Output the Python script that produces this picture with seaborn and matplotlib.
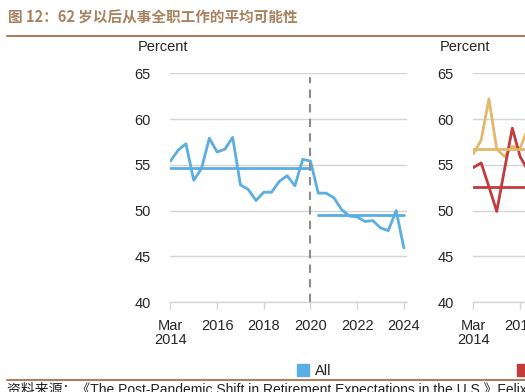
import numpy as np
import pandas as pd
import matplotlib
matplotlib.use("Agg")
import matplotlib.pyplot as plt
import seaborn as sns
from matplotlib.lines import Line2D

# data, one survey every 4 months, Mar 2014 .. Mar 2024
all_vals = [55.4, 56.6, 57.3, 53.3, 54.6, 57.9, 56.4, 56.7, 58.0, 52.8,
            52.3, 51.1, 52.0, 52.0, 53.2, 53.8, 52.7, 55.6, 55.4, 51.9,
            51.9, 51.4, 50.1, 49.4, 49.3, 48.8, 48.9, 48.1, 47.8, 50.0, 45.9]
all_pre_mean = 54.6
all_post_mean = 49.5

# right panel, only the first few points are visible
gold_vals = [56.2, 57.7, 62.2, 56.7, 55.9, 57.0, 56.8, 59.0]
red_vals = [54.7, 55.2, 52.6, 49.9, 54.5, 59.0, 55.9, 54.4]
gold_mean = 56.7
red_mean = 52.6

tick_pos = [0, 6, 12, 18, 24, 30]
tick_labels = ["Mar\n2014", "2016", "2018", "2020", "2022", "2024"]
yticks = [40, 45, 50, 55, 60, 65]

blue = "#5aaee3"
gold = "#e2b86a"
red = "#c23b3d"
brown = "#a8825f"
grid_c = "#d4d4d4"

sns.set_theme(style="white")
plt.rcParams["font.family"] = ["Liberation Sans", "Noto Sans CJK SC", "DejaVu Sans"]

fig = plt.figure(figsize=(5.25, 3.92), dpi=100)


def setup(ax, px):
    ax.set_ylim(40, 65)
    ax.set_xlim(-0.05, 30.4)
    ax.set_yticks(yticks)
    ax.yaxis.grid(True, color=grid_c, linewidth=1)
    ax.set_axisbelow(True)
    for s in ["top", "right", "left"]:
        ax.spines[s].set_visible(False)
    ax.spines["bottom"].set_color(grid_c)
    ax.spines["bottom"].set_linewidth(1)
    ax.set_xticks(tick_pos)
    ax.set_xticklabels(tick_labels, fontsize=10.5, linespacing=1.0)
    ax.tick_params(axis="x", length=5, width=1, color=grid_c, pad=7, bottom=True)
    ax.tick_params(axis="y", length=0, pad=14, labelsize=10.5)
    ax.set_xlabel("")
    ax.set_ylabel("")
    ax.text(px, 1.115, "Percent", transform=ax.transAxes, fontsize=10.5,
            ha="left", va="center")


ax1 = fig.add_axes([170 / 525, 1 - 302 / 392, 237 / 525, (302 - 73.3) / 392])
df_all = pd.DataFrame({"t": np.arange(len(all_vals)), "v": all_vals})
sns.lineplot(data=df_all, x="t", y="v", ax=ax1, color=blue, linewidth=2)
ax1.plot([0, 18], [all_pre_mean, all_pre_mean], color=blue, linewidth=2)
ax1.plot([19, 30], [all_post_mean, all_post_mean], color=blue, linewidth=2)
ax1.plot([18, 18], [40, 64.6], color="#8c8c8c", linewidth=1.5, linestyle=(0, (4, 3)))
setup(ax1, -0.135)

ax2 = fig.add_axes([473 / 525, 1 - 302 / 392, 237 / 525, (302 - 73.3) / 392])
df_r = pd.DataFrame({"t": np.arange(len(gold_vals)), "gold": gold_vals, "red": red_vals})
sns.lineplot(data=df_r, x="t", y="gold", ax=ax2, color=gold, linewidth=2)
sns.lineplot(data=df_r, x="t", y="red", ax=ax2, color=red, linewidth=2)
ax2.plot([0, 18], [gold_mean, gold_mean], color=gold, linewidth=2)
ax2.plot([0, 18], [red_mean, red_mean], color=red, linewidth=2)
setup(ax2, -0.14)

# title and rules
fig.text(8 / 525, 1 - 18 / 392, "图 12：62 岁以后从事全职工作的平均可能性", color=brown,
         fontsize=10.5, fontweight="bold", ha="left", va="center",
         family=["Noto Sans CJK SC", "DejaVu Sans"])
fig.add_artist(Line2D([7 / 525, 1], [1 - 36 / 392] * 2, color=brown, linewidth=1.5))
fig.add_artist(Line2D([7 / 525, 1], [1 - 380 / 392] * 2, color=brown, linewidth=1.5))

# legend
handles = [Line2D([], [], marker="s", linestyle="none", markersize=8, color=blue),
           Line2D([], [], marker="s", linestyle="none", markersize=8, color=red),
           Line2D([], [], marker="s", linestyle="none", markersize=8, color=gold)]
fig.legend(handles, ["All", "Men", "Women"], ncol=3, loc="center left",
           bbox_to_anchor=(283 / 525, 1 - 371 / 392), frameon=False, fontsize=10.5,
           handletextpad=0.3, columnspacing=12.6, handlelength=1.0)

fig.text(7 / 525, 1 - 389 / 392,
         "资料来源：《The Post-Pandemic Shift in Retirement Expectations in the U.S.》Felix Aidala, Gizem Kosar",
         fontsize=10, ha="left", va="center", color="#222222")

fig.savefig("out.png", dpi=100)
